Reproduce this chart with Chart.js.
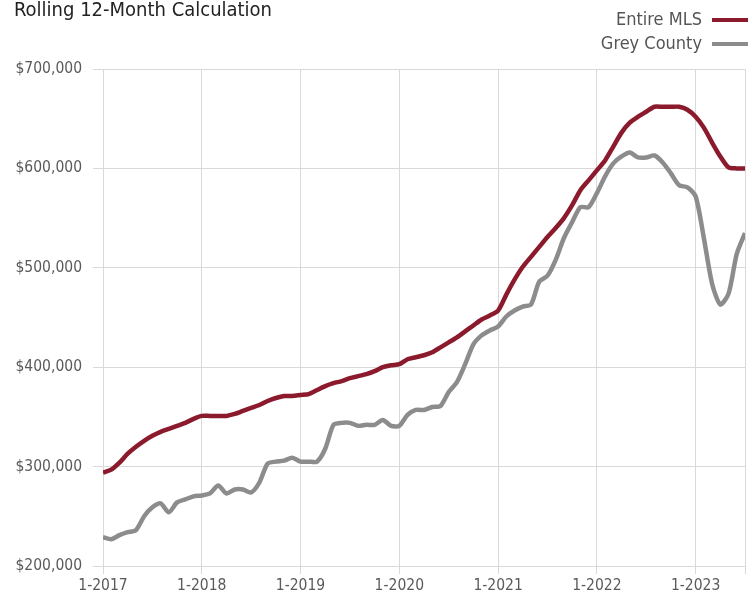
<!DOCTYPE html>
<html>
<head>
<meta charset="utf-8">
<script src="https://cdn.jsdelivr.net/npm/chart.js@4.4.1/dist/chart.umd.min.js"></script>
<style>
    body { margin: 0; background: #fff; }
    #wrap { position: relative; width: 748px; height: 601px; }
    #title {
        position: absolute; left: 14px; top: -3px;
        font: 20px "Liberation Sans Narrow", "DejaVu Sans Condensed", sans-serif;
        color: #222;
    }
    .leg {
        position: absolute; right: 46px;
        font: 18px "Liberation Sans Narrow", "DejaVu Sans Condensed", sans-serif;
        color: #555;
    }
    .leg span {
        position: absolute; left: 100%; margin-left: 10px; top: 50%;
        width: 36px; height: 4px; margin-top: -1px;
    }
</style>
</head>
<body>
<div id="wrap">
    <canvas id="chart"></canvas>
    <div id="title">Rolling 12-Month Calculation</div>
    <div class="leg" style="top:8px">Entire MLS<span style="background:#8b1a2c"></span></div>
    <div class="leg" style="top:32px">Grey County<span style="background:#8c8c8c"></span></div>
</div>
<script>

// DATA (monthly, 1-2017 .. 7-2023)

const yearLabels = ['1-2017', '1-2018', '1-2019', '1-2020', '1-2021', '1-2022', '1-2023'];

const entireMLS = [
    294, 297, 304, 313, 320, 326, 331, 335, 338, 341, 344, 348,
    351, 351, 351, 351, 353, 356, 359, 362, 366, 369, 371, 371,
    372, 373, 377, 381, 384, 386, 389, 391, 393, 396, 400, 402,
    403, 408, 410, 412, 415, 420, 425, 430, 436, 442, 448, 452,
    457, 473, 488, 501, 511, 521, 531, 540, 550, 563, 578, 588,
    598, 608, 622, 636, 646, 652, 657, 662, 662, 662, 662, 659,
    652, 641, 626, 612, 601, 600, 600
];

const greyCounty = [
    229, 227, 231, 234, 236, 250, 259, 263, 254, 264, 267, 270,
    271, 273, 281, 273, 277, 277, 274, 284, 303, 305, 306, 309,
    305, 305, 305, 318, 342, 344, 344, 341, 342, 342, 347, 341,
    341, 352, 357, 357, 360, 361, 375, 385, 403, 423, 432, 437,
    441, 451, 457, 461, 463, 486, 492, 508, 530, 546, 561, 561,
    575, 592, 605, 612, 616, 611, 611, 613, 606, 595, 583, 581,
    572, 530, 484, 463, 474, 514, 535
];

const yTicks = [200000, 300000, 400000, 500000, 600000, 700000];

const FONT = '"Liberation Sans Narrow", "DejaVu Sans Condensed", sans-serif';

const toPoints = (arr) => arr.map((v, i) => ({ x: i, y: v * 1000 }));


// LINE CHART

const ctx = document.getElementById('chart');

new Chart(ctx, {

    type: 'line',

    data: {
        datasets: [{
            label: 'Entire MLS',
            data: toPoints(entireMLS),
            borderColor: '#8b1a2c',
            borderWidth: 4.5,
            pointRadius: 0,
            tension: 0.25
        }, {
            label: 'Grey County',
            data: toPoints(greyCounty),
            borderColor: '#8c8c8c',
            borderWidth: 4.5,
            pointRadius: 0,
            tension: 0.25
        }]
    },

    options: {

        responsive: true,
        maintainAspectRatio: false,
        animation: false,

        layout: {
            padding: { top: 69, right: 3, left: 0, bottom: 0 }
        },

        plugins: {
            legend: { display: false },
            tooltip: { enabled: false }
        },

        scales: {

            x: {
                type: 'linear',
                min: 0,
                max: entireMLS.length - 1,
                afterBuildTicks: (scale) => {
                    const t = yearLabels.map((l, i) => ({ value: i * 12 }));
                    t.push({ value: entireMLS.length - 1 });
                    scale.ticks = t;
                },
                afterFit: (scale) => { scale.height = 35; },
                grid: {
                    color: '#d9d9d9',
                    tickLength: 8
                },
                border: { display: false },
                ticks: {
                    autoSkip: false,
                    maxRotation: 0,
                    padding: 3,
                    color: '#5a5a5a',
                    font: { family: FONT, size: 15.5 },
                    callback: (v) => (v % 12 === 0 ? yearLabels[v / 12] : '')
                }
            },

            y: {
                min: 200000,
                max: 700000,
                afterBuildTicks: (scale) => {
                    scale.ticks = yTicks.map((v) => ({ value: v }));
                },
                afterFit: (scale) => { scale.width = 103; },
                grid: {
                    color: '#d9d9d9',
                    tickLength: 10
                },
                border: { display: false },
                ticks: {
                    padding: 11,
                    color: '#5a5a5a',
                    font: { family: FONT, size: 15.5 },
                    callback: (v) => '$' + v.toLocaleString('en-US')
                }
            }

        }

    }

});

</script>
</body>
</html>
